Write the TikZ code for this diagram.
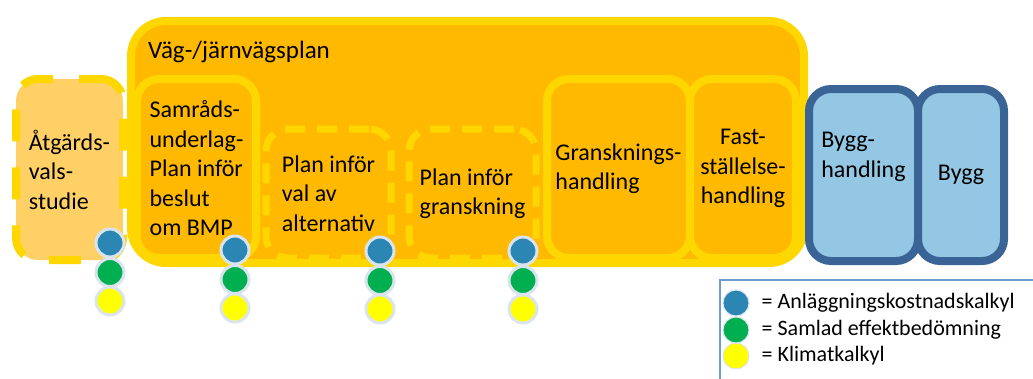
\documentclass[tikz,border=0pt]{standalone}
\usepackage{fontspec}
\setmainfont{Carlito}
\usetikzlibrary{positioning}
\definecolor{gul}{HTML}{FFD700}
\definecolor{orangefyll}{HTML}{FFB900}
\definecolor{ljusorange}{HTML}{FFD066}
\definecolor{blakant}{HTML}{3B6496}
\definecolor{blafyll}{HTML}{93C7E3}
\definecolor{kalkylbla}{HTML}{2C86B4}
\definecolor{kalkylgron}{HTML}{00B050}
\definecolor{kalkylgul}{HTML}{FFFF00}
\definecolor{prickkant}{HTML}{D9E4EF}
\definecolor{legkant}{HTML}{6D9BD1}

\begin{document}
\begin{tikzpicture}[x=1pt,y=-1pt]
		\tikzset{skede/.style = {shape=rectangle, rounded corners=22pt, draw=gul, fill=orangefyll, line width=8pt,
				inner sep=0pt, align=left, font=\fontsize{24}{29.5}\selectfont}}
		\tikzset{streckad/.style = {skede, line width=7pt, dash pattern=on 20pt off 12pt}}
		\tikzset{bygg/.style = {skede, draw=blakant, fill=blafyll}}
		\tikzset{prick/.style = {shape=circle, draw=prickkant, line width=3pt, minimum size=28pt, inner sep=0pt}}
		\tikzset{legprick/.style = {prick, line width=1pt, minimum size=26pt}}
		\tikzset{legtext/.style = {anchor=west, inner sep=0pt, font=\fontsize{22}{27}\selectfont}}
		\useasboundingbox (0,0) rectangle (1033,378);
		% plan
		\node[skede, rounded corners=35pt, minimum width=673pt, minimum height=242pt] (plan) at (467.5,142) {};
		\node[anchor=west, inner sep=0pt, font=\fontsize{25}{30}\selectfont] (plantitel) at (148,52) {Väg-/järnvägsplan};
		% skeden
		\node[skede, minimum width=119pt, minimum height=179pt] (samrad) at (196.5,168.5)
			{Samråds-\\underlag-\\Plan inför\\beslut\\om BMP};
		\node[streckad, minimum width=125pt, minimum height=129pt] (valalt) at (328.5,193.5)
			{Plan inför\\val av\\alternativ};
		\node[streckad, minimum width=127pt, minimum height=129pt] (infgransk) at (472.5,193.5)
			{Plan inför\\granskning};
		\node[skede, minimum width=143pt, minimum height=179pt] (gransk) at (618.5,168.5)
			{Gransknings-\\handling};
		\node[skede, align=center, minimum width=106pt, minimum height=179pt] (fast) at (743,168.5)
			{Fast-\\ställelse-\\handling};
		\node[skede, fill=ljusorange, line width=8pt, dash pattern=on 32pt off 26pt, dash phase=10pt,
			minimum width=107pt, minimum height=181pt] (atgard) at (69.5,169.5)
			{Åtgärds-\\vals-\\studie};
		\node[bygg, minimum width=109pt, minimum height=172pt,
			label={[yshift=18pt, align=left, font=\fontsize{24}{29.5}\selectfont]center:Bygg-\\handling}] (bygghandl) at (863.5,175) {};
		\node[bygg, minimum width=86pt, minimum height=172pt] (byggskede) at (961,175) {Bygg};
		% kalkyler
		\foreach \x/\y [count=\i] in {110/243, 235/250, 380/251, 523/251} {
			\node[prick, fill=kalkylbla] (bla\i) at (\x,\y) {};
			\node[prick, fill=kalkylgron] (gron\i) at (\x,\y+29.5) {};
			\node[prick, fill=kalkylgul] (gul\i) at (\x,\y+58) {};
		}
		% teckenforklaring
		\draw[legkant, line width=1.5pt] (720,280) rectangle (1045,392);
		\node[legprick, fill=kalkylbla] (legbla) at (736,303) {};
		\node[legprick, fill=kalkylgron] (leggron) at (736,330) {};
		\node[legprick, fill=kalkylgul] (leggul) at (736,356) {};
		\node[legtext, right=12pt of legbla] (legblatext) {= Anläggningskostnadskalkyl};
		\node[legtext, right=12pt of leggron] (leggrontext) {= Samlad effektbedömning};
		\node[legtext, right=12pt of leggul] (leggultext) {= Klimatkalkyl};
\end{tikzpicture}
\end{document}
